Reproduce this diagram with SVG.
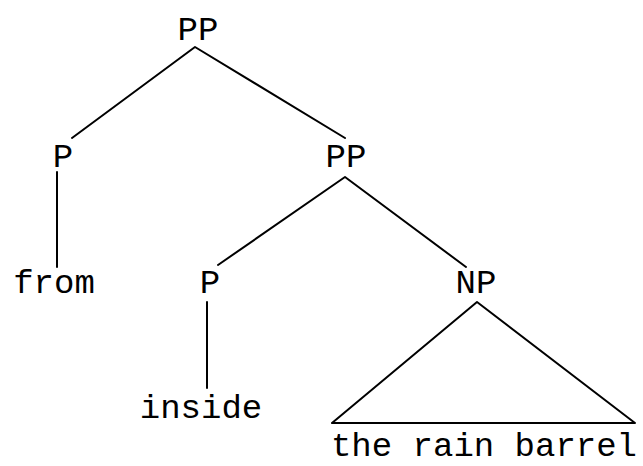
<svg xmlns="http://www.w3.org/2000/svg" width="643" height="466" viewBox="0 0 643 466">
<style>
text{font-family:"Liberation Mono","Courier New",monospace;font-size:34px;fill:#000;text-anchor:middle}
.e{stroke:#000;stroke-width:2;fill:none;stroke-linejoin:round;stroke-linecap:round}
</style>
<rect width="643" height="466" fill="#fff"/>
<g id="connectors">
<polyline class="e" points="72,138 195,47 345,138"/>
<line class="e" x1="57" y1="172" x2="57" y2="267"/>
<polyline class="e" points="218,265 345,177 466,267"/>
<line class="e" x1="207" y1="302" x2="207" y2="388"/>
<polygon class="e" points="477,302 332,423 635,423"/>
</g>
<g id="pp1"><text x="198" y="40">PP</text></g>
<g id="p1"><text x="63" y="167">P</text></g>
<g id="from"><text x="54" y="293">from</text></g>
<g id="pp2"><text x="346" y="167">PP</text></g>
<g id="p2"><text x="210" y="293">P</text></g>
<g id="inside"><text x="201" y="418">inside</text></g>
<g id="np"><text x="476" y="293">NP</text></g>
<g id="barrel"><text x="484" y="456">the rain barrel</text></g>
</svg>
